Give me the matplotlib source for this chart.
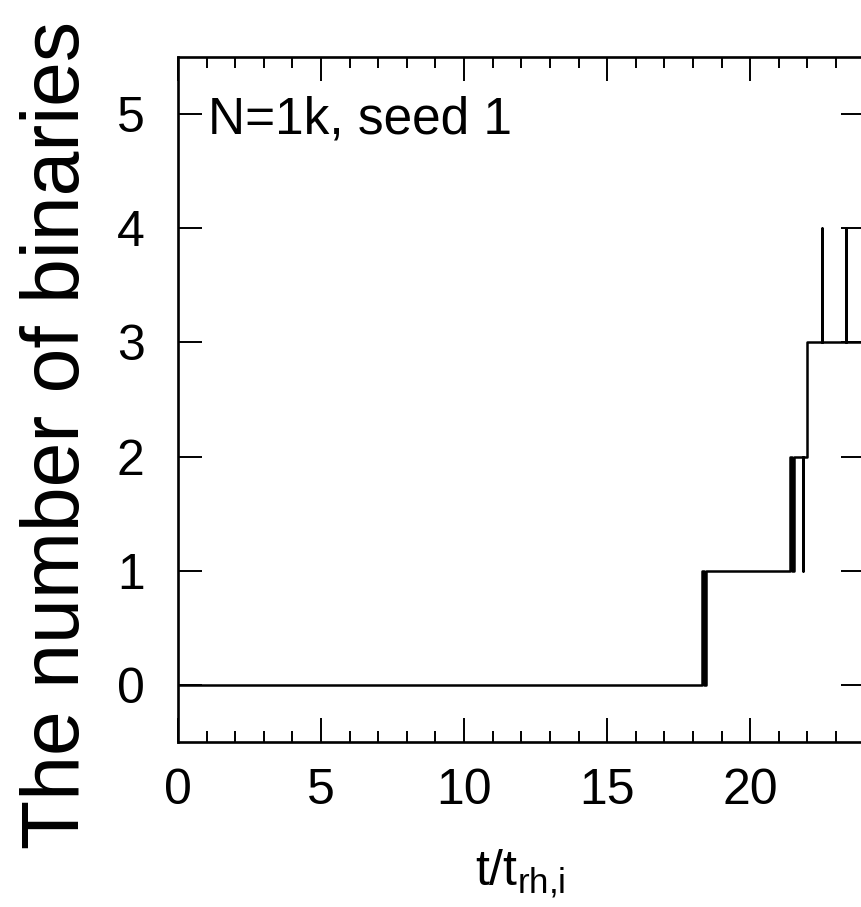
import matplotlib; matplotlib.use("Agg")
import matplotlib.pyplot as plt
from matplotlib.ticker import MultipleLocator

plt.rcParams["font.family"] = ["Liberation Sans", "DejaVu Sans"]
plt.rcParams["mathtext.fontset"] = "custom"
plt.rcParams["mathtext.rm"] = "Liberation Sans"

# step times (t / t_rh,i) where the binary count changes, and the count after each step
t_change = [0.0, 18.33, 18.40, 18.47, 21.40, 21.46, 21.52, 21.85, 21.86, 21.99,
            22.50, 22.51, 23.34, 23.35, 24.0]
n_binaries = [0, 1, 0, 1, 2, 1, 2, 1, 2, 3, 4, 3, 4, 3, 3]

x_ticks = [0, 5, 10, 15, 20]
y_ticks = [0, 1, 2, 3, 4, 5]

fig = plt.figure(figsize=(8.61, 9.07), dpi=100)
ax = fig.add_axes([178/861, 165/907, 686.6/861, 685/907])

ax.step(t_change, n_binaries, where="post", color="black", lw=1.8)

ax.set_xlim(0, 24); ax.set_ylim(-0.5, 5.5)
ax.set_xticks(x_ticks); ax.set_yticks(y_ticks)
ax.xaxis.set_minor_locator(MultipleLocator(1))
ax.tick_params(which="both", direction="in", top=True, right=True, width=1.4, color="black")
ax.tick_params(which="major", length=17, labelsize=36)
ax.tick_params(which="minor", length=8)
ax.tick_params(axis="x", pad=19)
ax.tick_params(axis="y", pad=24)
for s in ax.spines.values():
    s.set_linewidth(1.9)

ax.text((208-178)/686.6, (742-133)/685, "N=1k, seed 1", transform=ax.transAxes,
        fontsize=37, va="baseline", ha="left")

fig.text(520/861, 22/907, r"$\mathregular{t/t_{rh{,}i}}$", fontsize=36, ha="center", va="baseline")
fig.text(20/861, 472/907, "The number of binaries", rotation=90, fontsize=58,
         ha="left", va="center")

fig.savefig("out.png", dpi=100)
